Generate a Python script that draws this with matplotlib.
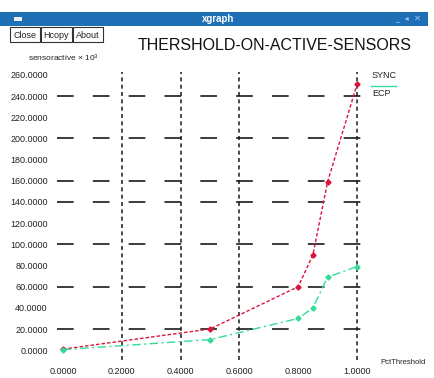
import matplotlib
matplotlib.use("Agg")
import matplotlib.pyplot as plt
from matplotlib.patches import Rectangle

# ---- data ----
x_vals = [0.0, 0.5, 0.8, 0.85, 0.9, 1.0]
sync_vals = [1.0, 20.0, 60.0, 90.0, 159.0, 251.0]
ecp_vals = [0.5, 10.0, 30.0, 40.0, 69.0, 79.0]
series_names = ["SYNC", "ECP"]
y_ticks = [0, 20, 40, 60, 80, 100, 120, 140, 160, 180, 200, 220, 240, 260]
x_ticks = [0.0, 0.2, 0.4, 0.6, 0.8, 1.0]
h_grid = [20, 60, 100, 140, 160, 200, 240]
v_grid = [0.2, 0.4, 0.6, 1.0]
title = "THERSHOLD-ON-ACTIVE-SENSORS"
xlabel = "PctThreshold"
ylabel = "sensoractive × 10$^{3}$"

W, H = 435, 378
fig = plt.figure(figsize=(W / 100, H / 100), dpi=100)
plt.rcParams['font.family'] = ['Liberation Sans', 'DejaVu Sans']
plt.rcParams['mathtext.fontset'] = 'custom'
plt.rcParams['mathtext.rm'] = 'Liberation Sans'
plt.rcParams['mathtext.it'] = 'Liberation Sans'
plt.rcParams['mathtext.default'] = 'rm'

def fx(px):
    return px / W

def fy(py):
    return 1 - py / H

# window chrome
fig.patches.append(Rectangle((0, fy(26)), fx(428), (26 - 12) / H, transform=fig.transFigure,
                             facecolor='#1e6fb5', edgecolor='none'))
fig.patches.append(Rectangle((fx(14), fy(21)), fx(8), 4 / H, transform=fig.transFigure,
                             facecolor='#e8eef5', edgecolor='none'))
fig.text(fx(218), fy(19), "xgraph", color='white', fontsize=7, fontweight='bold',
         ha='center', va='center')
fig.text(fx(395), fy(19), "_  ◂  ✕", color='#9cc4e8', fontsize=6, ha='left', va='center',
         family=['DejaVu Sans'])
for bx0, bx1, lab in [(10, 40, "Close"), (41, 72, "Hcopy"), (73, 103, "About")]:
    fig.patches.append(Rectangle((fx(bx0), fy(42)), fx(bx1 - bx0), 15 / H, transform=fig.transFigure,
                                 facecolor='white', edgecolor='#333333', lw=0.8))
    fig.text(fx((bx0 + bx1) / 2), fy(35), lab, fontsize=6.5, ha='center', va='center', color='#222222')

fig.text(fx(275), fy(45), title, fontsize=11.5, ha='center', va='center', color='#111111')
fig.text(fx(28), fy(58), ylabel, fontsize=6, ha='left', va='center', color='#222222')

# axes
px_left, px_right = 63, 357
py_bottom, py_top = 350.2, 74.9
ax = fig.add_axes([fx(px_left), fy(py_bottom), (px_right - px_left) / W, (py_bottom - py_top) / H])
ax.set_xlim(0, 1)
ax.set_ylim(0, 260)
for s in ax.spines.values():
    s.set_visible(False)
ax.patch.set_alpha(0)

for yv in h_grid:
    ax.axhline(yv, xmin=-0.02, xmax=1.027, color='#1a1a1a', lw=1.2, ls=(0, (10, 11.5)),
               clip_on=False, zorder=1)
for xv in v_grid:
    ax.axvline(xv, ymin=-0.035, ymax=1.01, color='#1a1a1a', lw=1.1, ls=(0, (2.6, 2.2)),
               clip_on=False, zorder=1)

ax.set_yticks(y_ticks)
ax.set_yticklabels([f"{v:.4f}" for v in y_ticks])
ax.set_xticks(x_ticks)
ax.set_xticklabels([f"{v:.4f}" for v in x_ticks])
ax.tick_params(axis='y', length=0, pad=11, labelsize=6.5, labelcolor='#222222')
ax.tick_params(axis='x', length=0, pad=12, labelsize=6.5, labelcolor='#222222')

red = '#dc143c'
green = '#33dd99'
ax.plot(x_vals, sync_vals, color=red, lw=1.0, ls=(0, (2.5, 1.5)), marker='D', ms=2.6,
        clip_on=False, zorder=3)
ax.plot(x_vals, ecp_vals, color=green, lw=1.0, ls=(0, (6, 2.5, 1.5, 2.5)), marker='D', ms=2.6,
        clip_on=False, zorder=3)

# legend (xgraph style)
fig.text(fx(372), fy(75), series_names[0], fontsize=6.5, ha='left', va='center', color='#222222')
fig.text(fx(372), fy(93), series_names[1], fontsize=6.5, ha='left', va='center', color='#222222')
fig.lines.append(plt.Line2D([fx(371), fx(396)], [fy(86), fy(86)], transform=fig.transFigure,
                            color=green, lw=1.0))

fig.text(fx(380), fy(362), xlabel, fontsize=5.5, ha='left', va='center', color='#222222')

fig.savefig("out.png", dpi=100)
